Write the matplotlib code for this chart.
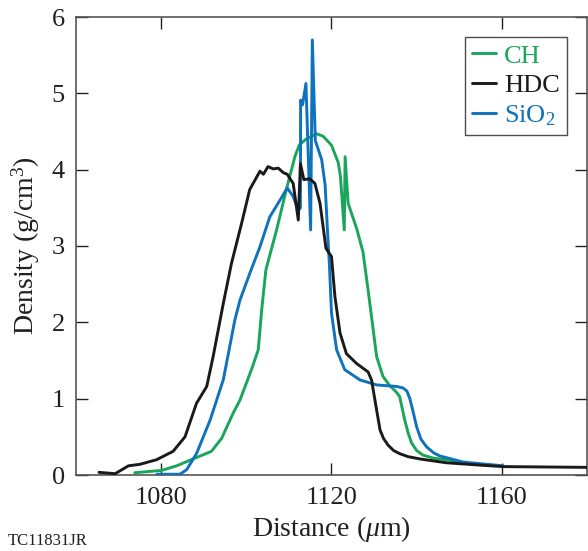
import matplotlib
matplotlib.use('Agg')
import matplotlib.pyplot as plt

plt.rcParams['font.family'] = ['Liberation Serif', 'DejaVu Serif']
plt.rcParams['mathtext.fontset'] = 'custom'
plt.rcParams['mathtext.rm'] = 'Liberation Serif'
plt.rcParams['mathtext.it'] = 'Liberation Serif:italic'

# CH
ch_x = [1073.8, 1080.1, 1083.6, 1087.5, 1091.8, 1094.2, 1096.9, 1098.5, 1101.2, 1102.8,
        1103.6, 1104.6, 1107.1, 1109.4, 1111.4, 1112.4, 1114.0, 1116.5, 1118.0, 1120.0,
        1121.6, 1122.1, 1123.0, 1123.2, 1123.9, 1125.9, 1127.4, 1128.6, 1129.8, 1130.6,
        1132.1, 1133.7, 1135.0, 1136.0, 1137.2, 1138.0, 1138.8, 1140.0, 1141.5, 1144.0,
        1147.0, 1153.3, 1160.3]
ch_y = [0.03, 0.06, 0.12, 0.21, 0.31, 0.48, 0.81, 0.98, 1.38, 1.64,
        2.16, 2.69, 3.21, 3.74, 4.17, 4.32, 4.40, 4.47, 4.44, 4.32,
        4.09, 3.91, 3.21, 4.17, 3.56, 3.23, 2.92, 2.42, 1.90, 1.55,
        1.29, 1.17, 1.10, 1.03, 0.72, 0.55, 0.42, 0.32, 0.26, 0.22,
        0.20, 0.14, 0.12]

# HDC
hdc_x = [1065.4, 1069.2, 1072.3, 1075.0, 1078.9, 1082.8, 1085.6, 1088.3, 1090.7, 1092.2,
         1094.6, 1096.5, 1098.9, 1100.8, 1103.2, 1104.0, 1105.1, 1106.3, 1107.5, 1108.7,
         1109.6, 1111.0, 1112.2, 1112.7, 1113.5, 1114.9, 1116.1, 1117.3, 1118.7, 1120.0,
         1120.8, 1122.0, 1123.5, 1125.9, 1128.6, 1129.4, 1130.6, 1131.4, 1132.2, 1133.3,
         1134.6, 1136.0, 1138.0, 1140.8, 1147.0, 1154.8, 1160.3, 1180.0]
hdc_y = [0.035, 0.017, 0.12, 0.14, 0.20, 0.31, 0.50, 0.94, 1.16, 1.55,
         2.25, 2.77, 3.30, 3.74, 3.98, 3.94, 4.04, 4.01, 4.02, 3.96,
         3.94, 3.82, 3.34, 4.08, 3.87, 3.88, 3.82, 3.56, 2.97, 2.86,
         2.34, 1.86, 1.59, 1.46, 1.35, 1.245, 0.85, 0.59, 0.48, 0.39,
         0.32, 0.28, 0.24, 0.21, 0.16, 0.13, 0.11, 0.10]

# SiO2
sio2_x = [1079.0, 1084.4, 1086.0, 1088.3, 1091.5, 1094.6, 1097.3, 1098.5, 1100.8, 1103.2,
          1105.5, 1107.9, 1109.6, 1111.0, 1112.2, 1112.7, 1112.75, 1113.2, 1114.0, 1115.1,
          1115.5, 1116.2, 1117.7, 1118.5, 1119.2, 1119.5, 1120.0, 1121.2, 1123.1, 1126.7,
          1130.6, 1135.3, 1136.8, 1137.7, 1138.4, 1139.2, 1140.0, 1141.0, 1142.3, 1144.0,
          1145.4, 1150.9, 1160.3]
sio2_y = [0.01, 0.01, 0.07, 0.28, 0.72, 1.25, 2.03, 2.29, 2.64, 2.99,
          3.38, 3.60, 3.76, 3.65, 3.47, 3.50, 4.91, 4.85, 5.13, 3.21,
          5.70, 4.38, 4.13, 3.80, 3.05, 2.77, 2.12, 1.64, 1.38, 1.245,
          1.18, 1.16, 1.14, 1.10, 1.00, 0.82, 0.63, 0.47, 0.37, 0.29,
          0.25, 0.17, 0.12]

green = '#1aa65a'
black = '#1a1a1a'
blue = '#0f72bd'

fig = plt.figure(figsize=(5.88, 5.51), dpi=100)
ax = fig.add_axes([76/588, 76/551, 511/588, 458/551])

kw = dict(lw=2.1, solid_joinstyle='round', solid_capstyle='round')
ax.plot(ch_x, ch_y, color=green, label='CH', zorder=2, **kw)
ax.plot(hdc_x, hdc_y, color=black, label='HDC', zorder=4, **kw)
ax.plot(sio2_x, sio2_y, color=blue, label='SiO$_2$', zorder=3, **kw)

ax.set_xlim(1060, 1180)
ax.set_ylim(0, 6)
ax.set_xticks([1080, 1120, 1160])
ax.set_yticks([0, 1, 2, 3, 4, 5, 6])
ax.tick_params(direction='in', length=8.5, width=1, top=True, right=True,
               labelsize=19, colors='#231f20', pad=8)
ax.tick_params(axis='x', pad=9)
for s in ax.spines.values():
    s.set_color('#555555')
    s.set_linewidth(1.2)

ax.set_xlabel('Distance ($\\mu$m)', fontsize=20, color='#231f20', labelpad=3)
ax.set_ylabel('Density (g/cm$^3$)', fontsize=20, color='#231f20', labelpad=7)

leg = ax.legend(loc='upper right', fontsize=19, frameon=True, fancybox=False,
                edgecolor='#231f20', handlelength=0.9, handletextpad=0.3,
                labelspacing=0.23, borderpad=0.28, borderaxespad=0.75)
leg.get_frame().set_linewidth(1.0)
for txt, c in zip(leg.get_texts(), [green, black, blue]):
    txt.set_color(c)

fig.text(8/588, 1 - 541/551, 'TC11831JR', fontsize=12, color='#231f20', va='center')

fig.savefig('out.png', dpi=100)
